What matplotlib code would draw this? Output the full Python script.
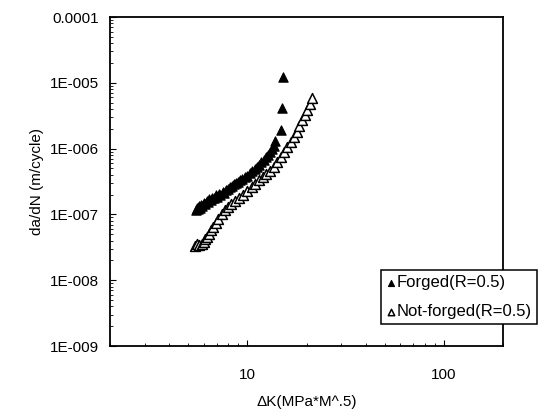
import matplotlib
matplotlib.use("Agg")
import matplotlib.pyplot as plt
from matplotlib.ticker import FixedLocator, FixedFormatter, LogLocator, NullFormatter

plt.rcParams['font.family'] = ['Liberation Sans', 'DejaVu Sans']

# Forged (R=0.5) - filled triangles
forged_dk = [5.5, 5.55, 5.6, 5.7, 5.75, 5.8, 5.9, 6.0, 6.1, 6.2, 6.3, 6.4, 6.5, 6.6, 6.8,
             6.9, 7.0, 7.2, 7.3, 7.5, 7.6, 7.8, 8.0, 8.2, 8.4, 8.6, 8.8, 9.0, 9.2, 9.4,
             9.7, 10.0, 10.3, 10.6, 10.9, 11.2, 11.5, 11.8, 12.1, 12.4, 12.7, 13.0,
             13.3, 13.6, 13.8, 14.9, 15.0, 15.1]
forged_dadn = [1.15e-7, 1.25e-7, 1.2e-7, 1.35e-7, 1.25e-7, 1.4e-7, 1.35e-7, 1.5e-7, 1.45e-7,
               1.6e-7, 1.55e-7, 1.7e-7, 1.65e-7, 1.8e-7, 1.75e-7, 1.95e-7, 1.85e-7, 2.05e-7,
               2.0e-7, 2.2e-7, 2.15e-7, 2.35e-7, 2.45e-7, 2.6e-7, 2.7e-7, 2.85e-7, 2.95e-7,
               3.1e-7, 3.3e-7, 3.4e-7, 3.7e-7, 3.9e-7, 4.2e-7, 4.5e-7, 4.9e-7, 5.3e-7,
               5.7e-7, 6.2e-7, 6.8e-7, 7.4e-7, 8.0e-7, 8.8e-7, 9.8e-7, 1.1e-6, 1.3e-6,
               1.9e-6, 4.1e-6, 1.23e-5]

# Not-forged (R=0.5) - open triangles
nf_dk = [5.4, 5.55, 5.7, 5.85, 6.0, 6.1, 6.2, 6.35, 6.5, 6.7, 6.9, 7.1, 7.4, 7.7, 8.0,
         8.3, 8.7, 9.1, 9.5, 10.0, 10.5, 11.0, 11.5, 12.0, 12.5, 13.0, 13.6, 14.2, 14.8,
         15.4, 16.0, 16.6, 17.2, 17.8, 18.4, 19.0, 19.6, 20.2, 20.8, 21.4]
nf_dadn = [3.3e-8, 3.5e-8, 3.4e-8, 3.6e-8, 3.8e-8, 4.2e-8, 4.5e-8, 5.0e-8, 5.8e-8, 6.5e-8,
           7.5e-8, 8.5e-8, 1.0e-7, 1.15e-7, 1.3e-7, 1.45e-7, 1.6e-7, 1.8e-7, 2.0e-7,
           2.3e-7, 2.6e-7, 2.9e-7, 3.3e-7, 3.7e-7, 4.1e-7, 4.6e-7, 5.3e-7, 6.2e-7,
           7.4e-7, 8.8e-7, 1.05e-6, 1.25e-6, 1.5e-6, 1.8e-6, 2.2e-6, 2.7e-6, 3.2e-6,
           3.9e-6, 4.7e-6, 5.8e-6]

y_ticks = [1e-9, 1e-8, 1e-7, 1e-6, 1e-5, 1e-4]
y_tick_labels = ['1E-009', '1E-008', '1E-007', '1E-006', '1E-005', '0.0001']
x_ticks = [10, 100]
x_tick_labels = ['10', '100']

fig = plt.figure(figsize=(5.46, 4.16), dpi=100)
ax = fig.add_axes([110/546, 1 - 346/416, 393/546, 329/416])

ax.scatter(forged_dk, forged_dadn, marker='^', s=45, facecolor='black',
           edgecolor='black', linewidths=0.8, label='Forged(R=0.5)', zorder=3)
ax.scatter(nf_dk, nf_dadn, marker='^', s=50, facecolor='white',
           edgecolor='black', linewidths=1.1, label='Not-forged(R=0.5)', zorder=2)

ax.set_xscale('log')
ax.set_yscale('log')
ax.set_xlim(2, 200)
ax.set_ylim(1e-9, 1e-4)

ax.yaxis.set_major_locator(FixedLocator(y_ticks))
ax.yaxis.set_major_formatter(FixedFormatter(y_tick_labels))
ax.yaxis.set_minor_locator(LogLocator(base=10, subs=range(2, 10)))
ax.yaxis.set_minor_formatter(NullFormatter())
ax.xaxis.set_major_locator(FixedLocator(x_ticks))
ax.xaxis.set_major_formatter(FixedFormatter(x_tick_labels))
ax.xaxis.set_minor_locator(LogLocator(base=10, subs=range(2, 10)))
ax.xaxis.set_minor_formatter(NullFormatter())

ax.tick_params(axis='both', which='major', direction='in', length=4, width=0.8,
               labelsize=11)
ax.tick_params(axis='y', which='major', pad=8)
ax.tick_params(axis='x', which='major', pad=16)
ax.tick_params(axis='both', which='minor', direction='in', length=2, width=0.6)

for sp in ax.spines.values():
    sp.set_linewidth(1.3)

ax.set_ylabel('da/dN (m/cycle)', fontsize=11, labelpad=4)
ax.set_xlabel('\u0394K(MPa*M^.5)', fontsize=11, labelpad=9)

leg = ax.legend(loc='upper right', bbox_to_anchor=(1.087, 0.231), borderaxespad=0,
                frameon=True, fancybox=False, fontsize=12, handletextpad=0.05,
                handlelength=0.6, borderpad=0.3, labelspacing=0.85, markerscale=0.65)
leg.get_frame().set_edgecolor('black')
leg.get_frame().set_linewidth(1.1)
leg.get_frame().set_alpha(1)

fig.savefig('out.png', dpi=100)
